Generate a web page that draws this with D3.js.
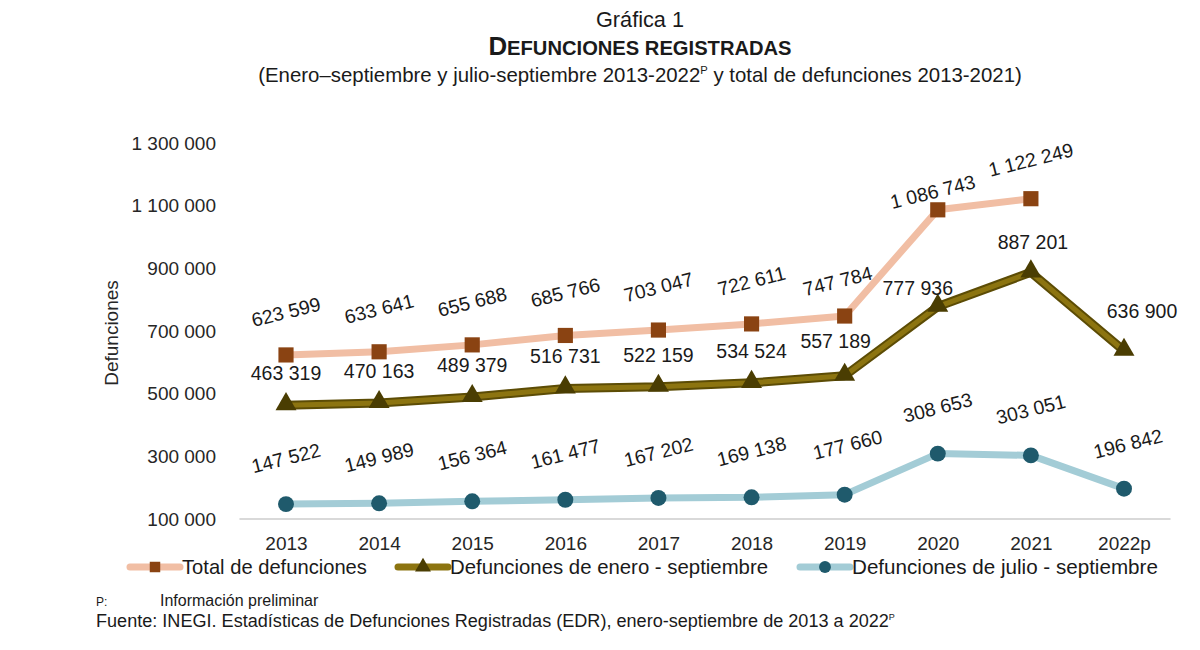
<!DOCTYPE html>
<html>
<head>
<meta charset="utf-8">
<script src="https://cdn.jsdelivr.net/npm/d3@7"></script>
<style>
  html, body { margin: 0; padding: 0; background: #fff; }
  svg { display: block; }
</style>
</head>
<body>
<svg id="chart" width="1200" height="650"></svg>
<script>
// ---- data ----
const years = ["2013","2014","2015","2016","2017","2018","2019","2020","2021","2022p"];
const totalDef = [623599, 633641, 655688, 685766, 703047, 722611, 747784, 1086743, 1122249, null];
const eneroSep = [463319, 470163, 489379, 516731, 522159, 534524, 557189, 777936, 887201, 636900];
const julioSep = [147522, 149989, 156364, 161477, 167202, 169138, 177660, 308653, 303051, 196842];
const yTicks = [100000, 300000, 500000, 700000, 900000, 1100000, 1300000];
const seriesNames = ["Total de defunciones", "Defunciones de enero - septiembre", "Defunciones de julio - septiembre"];

const fmt = v => d3.format(",")(v).replace(/,/g, " ");
const svg = d3.select("#chart");
const FONT = "Liberation Sans, Arial, Helvetica, sans-serif";
const NARROW = "'Liberation Sans Narrow', 'Arial Narrow', 'Liberation Sans', Arial, sans-serif";

function fit(sel, w) {
  const cur = parseFloat(sel.attr("font-size"));
  const m = sel.node().getComputedTextLength();
  if (m > 0) sel.attr("font-size", (cur * w / m).toFixed(2));
}

// ---- scales ----
const x = d3.scalePoint().domain(years).range([286, 1124]);
const y = d3.scaleLinear().domain([100000, 1300000]).range([519, 143]);

// ---- titles ----
const t1 = svg.append("text").attr("x", 640).attr("y", 27).attr("text-anchor", "middle")
  .attr("font-family", NARROW).attr("font-size", 20).attr("fill", "#1a1a1a").text("Gráfica 1");
fit(t1, 88);
const t2 = svg.append("text").attr("x", 640).attr("y", 55).attr("text-anchor", "middle")
  .attr("font-family", NARROW).attr("font-weight", "bold").attr("font-size", 21).attr("fill", "#1a1a1a");
t2.append("tspan").text("D");
t2.append("tspan").attr("font-size", "0.78em").text("EFUNCIONES REGISTRADAS");
fit(t2, 303);
const t3 = svg.append("text").attr("x", 640).attr("y", 82).attr("text-anchor", "middle")
  .attr("font-family", NARROW).attr("font-size", 20).attr("fill", "#1a1a1a");
t3.append("tspan").text("(Enero–septiembre y julio-septiembre 2013-2022");
t3.append("tspan").attr("font-size", "0.55em").attr("dy", -8).text("P");
t3.append("tspan").attr("dy", 8).text(" y total de defunciones 2013-2021)");
fit(t3, 764);

// ---- axes ----
const yAxis = d3.axisLeft(y).tickValues(yTicks).tickSize(0).tickPadding(0).tickFormat(fmt);
const gy = svg.append("g").attr("transform", "translate(216,0)").call(yAxis);
gy.select(".domain").remove();
gy.selectAll("text").attr("font-family", FONT).attr("font-size", 19).attr("fill", "#262626");

const xAxis = d3.axisBottom(x).tickSize(0).tickPadding(0);
const gx = svg.append("g").attr("transform", "translate(0,519)").call(xAxis);
gx.select(".domain").remove();
gx.selectAll("text").attr("font-family", FONT).attr("font-size", 19).attr("fill", "#262626").attr("dy", "1.65em");
svg.append("line").attr("x1", x(years[0]) - x.step()/2).attr("x2", x(years[years.length-1]) + x.step()/2)
  .attr("y1", y(100000)).attr("y2", y(100000)).attr("stroke", "#d9d9d9").attr("stroke-width", 2);

svg.append("text").attr("transform", "translate(118,333) rotate(-90)").attr("text-anchor", "middle")
  .attr("font-family", FONT).attr("font-size", 19).attr("fill", "#262626").text("Defunciones");

// ---- lines ----
const mk = vals => years.map((yr, i) => ({yr, v: vals[i]})).filter(d => d.v != null);
const lineGen = d3.line().x(d => x(d.yr)).y(d => y(d.v));

const dT = mk(totalDef), dE = mk(eneroSep), dJ = mk(julioSep);

svg.append("path").datum(dJ).attr("d", lineGen).attr("fill", "none")
  .attr("stroke", "#a3ccd6").attr("stroke-width", 7).attr("stroke-linejoin", "round");
svg.append("path").datum(dE).attr("d", lineGen).attr("fill", "none")
  .attr("stroke", "#5c4c05").attr("stroke-width", 9).attr("stroke-linejoin", "round");
svg.append("path").datum(dE).attr("d", lineGen).attr("fill", "none")
  .attr("stroke", "#8c7410").attr("stroke-width", 5).attr("stroke-linejoin", "round");
svg.append("path").datum(dT).attr("d", lineGen).attr("fill", "none")
  .attr("stroke", "#f1bea4").attr("stroke-width", 7).attr("stroke-linejoin", "round");

// ---- markers ----
const sq = d3.symbol().type(d3.symbolSquare).size(230);
const tri = d3.symbol().type(d3.symbolTriangle).size(190);
const cir = d3.symbol().type(d3.symbolCircle).size(200);

svg.append("g").selectAll("path").data(dJ).join("path").attr("d", cir)
  .attr("transform", d => `translate(${x(d.yr)},${y(d.v)})`).attr("fill", "#1f5a6c");
svg.append("g").selectAll("path").data(dE).join("path").attr("d", tri)
  .attr("transform", d => `translate(${x(d.yr)},${y(d.v) - 1})`).attr("fill", "#4a3d02");
svg.append("g").selectAll("path").data(dT).join("path").attr("d", sq)
  .attr("transform", d => `translate(${x(d.yr)},${y(d.v)})`).attr("fill", "#8a4312");

// ---- data labels ----
function labels(data, base, rot, adj) {
  svg.append("g").selectAll("text").data(data).join("text")
    .attr("transform", d => {
      const a = adj[d.yr] || [0, base];
      return `translate(${x(d.yr) + a[0]},${y(d.v) - a[1]}) rotate(${rot})`;
    })
    .attr("text-anchor", "middle").attr("dy", "0.35em")
    .attr("font-family", FONT).attr("font-size", 19.5).attr("fill", "#1a1a1a")
    .text(d => fmt(d.v));
}
labels(dT, 43, -14, {"2019": [-7, 35], "2020": [-5, 18], "2021": [0, 39]});
labels(dE, 32, 0, {"2019": [-9, 35], "2020": [-20, 18], "2021": [2, 30], "2022p": [18, 40]});
labels(dJ, 46, -14, {"2019": [3, 50], "2022p": [4, 45]});

// ---- legend ----
const legY = 567;
const leg = [
  {x1: 130, x2: 180, tx: 182, w: 185, stroke: "#f1bea4", sw: 7, sym: sq, fill: "#8a4312"},
  {x1: 398, x2: 448, tx: 450, w: 318, stroke: "#8c7410", sw: 7, sym: tri, fill: "#4a3d02"},
  {x1: 800, x2: 850, tx: 852, w: 306, stroke: "#a3ccd6", sw: 7, sym: cir, fill: "#1f5a6c"}
];
leg.forEach((L, i) => {
  svg.append("line").attr("x1", L.x1).attr("x2", L.x2).attr("y1", legY).attr("y2", legY)
    .attr("stroke", L.stroke).attr("stroke-width", L.sw).attr("stroke-linecap", "round");
  svg.append("path").attr("d", L.sym.size(110)()).attr("transform", `translate(${(L.x1+L.x2)/2},${legY})`).attr("fill", L.fill);
  const t = svg.append("text").attr("x", L.tx).attr("y", legY).attr("dy", "0.35em")
    .attr("font-family", NARROW).attr("font-size", 22).attr("fill", "#1a1a1a").text(seriesNames[i]);
  fit(t, L.w);
});

// ---- footnotes ----
svg.append("text").attr("x", 96).attr("y", 606).attr("font-family", FONT).attr("font-size", 12)
  .attr("fill", "#1a1a1a").text("P:");
svg.append("text").attr("x", 160).attr("y", 606).attr("font-family", FONT).attr("font-size", 16)
  .attr("fill", "#1a1a1a").text("Información preliminar");
const fn = svg.append("text").attr("x", 96).attr("y", 627).attr("font-family", FONT).attr("font-size", 16)
  .attr("fill", "#1a1a1a");
fn.append("tspan").text("Fuente: INEGI. Estadísticas de Defunciones Registradas (EDR), enero-septiembre de 2013 a 2022");
fn.append("tspan").attr("font-size", 9).attr("dy", -7).text("P");
fit(fn, 800);
</script>
</body>
</html>
